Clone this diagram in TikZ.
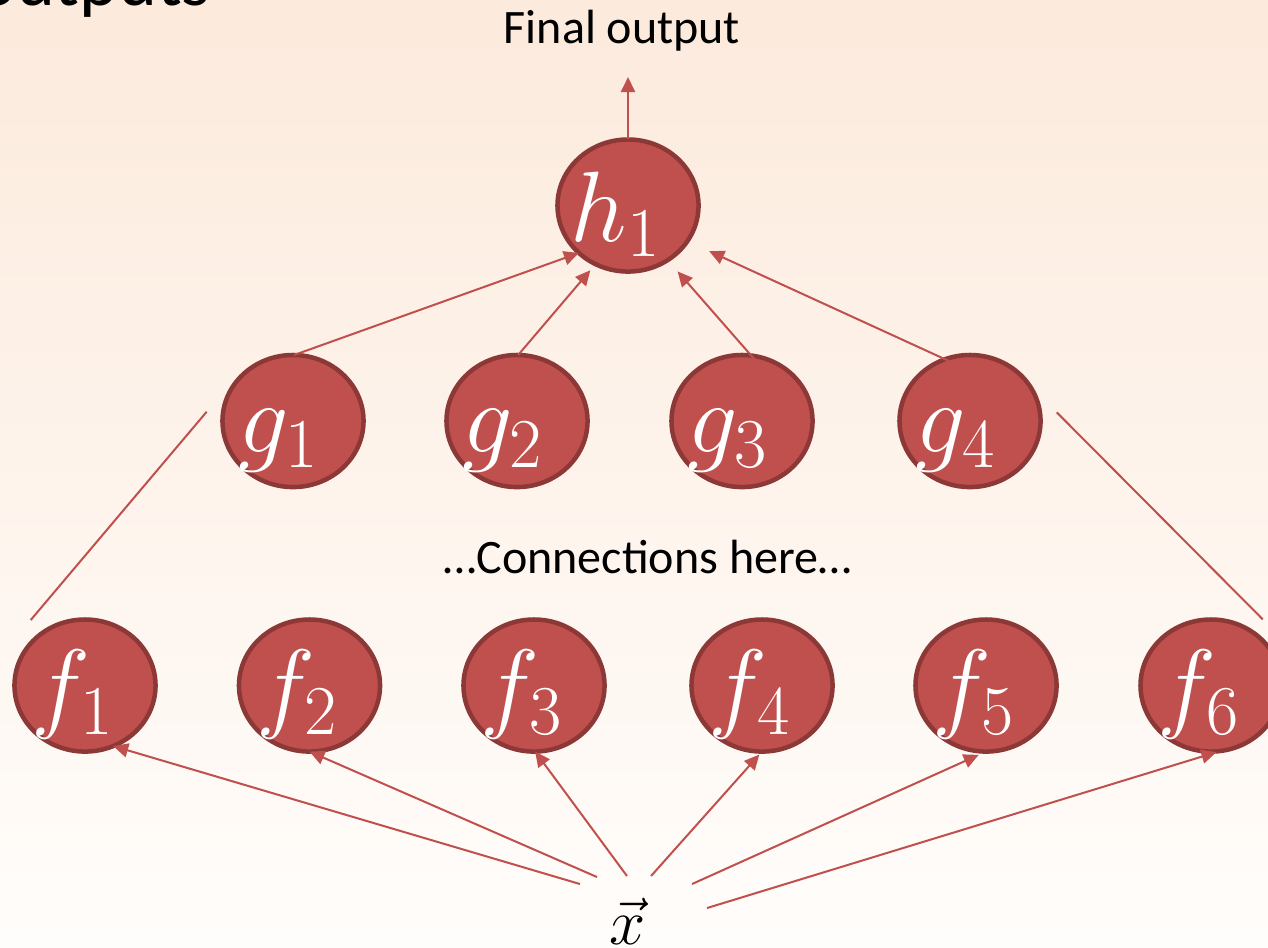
\documentclass[tikz,border=0pt]{standalone}
\usepackage{fix-cm}
\usepackage{fontspec}
\newfontfamily\calibri{Carlito}
\usetikzlibrary{arrows.meta,shapes.geometric}
\definecolor{nodefill}{HTML}{C0504D}
\definecolor{nodeline}{HTML}{8C3836}
\definecolor{arrowred}{HTML}{C0504D}
\definecolor{bgtop}{RGB}{252,234,220}
\definecolor{bgbot}{RGB}{255,253,251}
\tikzset{
  unit/.style={ellipse, draw=nodeline, fill=nodefill, line width=0.045cm,
    minimum width=1.41cm, minimum height=1.32cm, outer sep=0pt, inner sep=0pt},
  conn/.style={draw=arrowred, line width=0.02cm},
  arr/.style={conn, -{Triangle[length=0.15cm,width=0.14cm]}},
  mathlbl/.style={text=white, font=\fontsize{28.45}{34}\selectfont, inner sep=0pt},
  flabel/.style={mathlbl, xshift=-0.12cm, yshift=-0.085cm},
  glabel/.style={mathlbl, xshift=-0.145cm, yshift=-0.195cm},
  hlabel/.style={mathlbl, xshift=-0.12cm, yshift=-0.09cm},
  bodytext/.style={font=\calibri\fontsize{13.66}{16}\selectfont, inner sep=0pt, text=black},
  titletext/.style={font=\calibri\fontsize{21}{25}\selectfont, inner sep=0pt, text=black}
}
\begin{document}
\begin{tikzpicture}[x=0.01cm, y=-0.01cm]
  \useasboundingbox (0,0) rectangle (1268,947);
  \clip (0,0) rectangle (1268,947);
  \fill[top color=bgtop, bottom color=bgbot] (0,0) rectangle (1268,947);

  % title fragment
  \node[titletext, anchor=base west] (title) at (-23.5,5) {outputs};

  % texts
  \node[bodytext, anchor=base] (out) at (622,43) {Final output};
  \node[bodytext, anchor=base] (conntext) at (647.5,573) {…Connections here…};
  \node[font=\fontsize{18.5}{22}\selectfont, anchor=base, inner sep=0pt] (x) at (628,944) {$\vec{x}$};

  % nodes
  \node[unit] (h1) at (628,205.5) {};
  \node[hlabel] (h1t) at (h1) {$h_1$};

  \node[unit] (g1) at (293,421) {};
  \node[unit] (g2) at (517,421) {};
  \node[unit] (g3) at (742,421) {};
  \node[unit] (g4) at (970,421) {};
  \node[glabel] (g1t) at (g1) {$g_1$};
  \node[glabel] (g2t) at (g2) {$g_2$};
  \node[glabel] (g3t) at (g3) {$g_3$};
  \node[glabel] (g4t) at (g4) {$g_4$};

  \node[unit] (f1) at (85,685.5) {};
  \node[unit] (f2) at (309.5,685.5) {};
  \node[unit] (f3) at (534,685.5) {};
  \node[unit] (f4) at (762,685.5) {};
  \node[unit] (f5) at (986,685.5) {};
  \node[unit] (f6) at (1211,685.5) {};
  \node[flabel] (f1t) at (f1) {$f_1$};
  \node[flabel] (f2t) at (f2) {$f_2$};
  \node[flabel] (f3t) at (f3) {$f_3$};
  \node[flabel] (f4t) at (f4) {$f_4$};
  \node[flabel] (f5t) at (f5) {$f_5$};
  \node[flabel] (f6t) at (f6) {$f_6$};

  % coordinates for free ends
  \coordinate (outtip) at (628,77);
  \coordinate (la) at (30.7,620);
  \coordinate (lb) at (206.7,411.7);
  \coordinate (ra) at (1056.7,412.3);
  \coordinate (rb) at (1262.7,619.3);
  \coordinate (s1) at (580,884);
  \coordinate (s2) at (597,877);
  \coordinate (s3) at (627,876);
  \coordinate (s4) at (651,876);
  \coordinate (s5) at (692,884);
  \coordinate (s6) at (707,908);

  % connectors
  \draw[arr] (h1.north) -- (outtip);
  \draw[arr] (g1.89) -- (h1.-136);
  \draw[arr, shorten >=0.08cm] (g2.89) -- (h1.-119);
  \draw[arr, shorten <=-0.08cm, shorten >=0.15cm] (g3.82) -- (h1.-54);
  \draw[arr, shorten <=-0.05cm, shorten >=0.24cm] (g4.112) -- (h1.-31);

  \draw[conn] (la) -- (lb);
  \draw[conn] (ra) -- (rb);

  \draw[arr] (s1) -- (f1.-65);
  \draw[arr] (s2) -- (f2.-90);
  \draw[arr] (s3) -- (f3.-89);
  \draw[arr, shorten >=0.04cm] (s4) -- (f4.-90);
  \draw[arr, shorten >=0.08cm] (s5) -- (f5.-90);
  \draw[arr, shorten >=0.04cm] (s6) -- (f6.-82);
\end{tikzpicture}
\end{document}
